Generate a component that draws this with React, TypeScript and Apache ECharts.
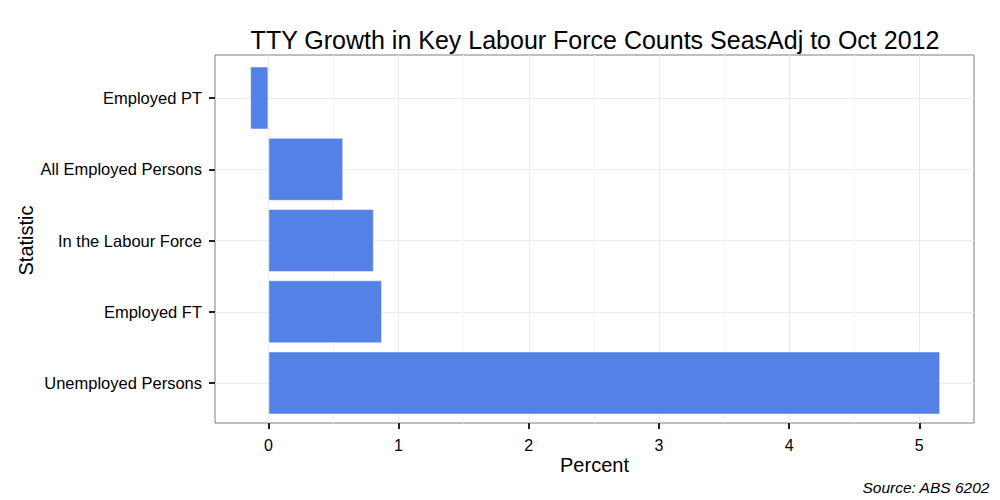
import React, { useEffect, useRef } from "react";
import * as echarts from "echarts";

const categories = [
  "Unemployed Persons",
  "Employed FT",
  "In the Labour Force",
  "All Employed Persons",
  "Employed PT",
];
const growth = [5.16, 0.873, 0.81, 0.575, -0.14];
const xMajorTicks = [0, 1, 2, 3, 4, 5];
const xMinorTicks = [0.5, 1.5, 2.5, 3.5, 4.5];
const xMin = -0.41;
const xMax = 5.42;

const FONT = "'Liberation Sans', Arial, Helvetica, sans-serif";

export default function App() {
  const ref = useRef<HTMLDivElement>(null);
  useEffect(() => {
    if (!ref.current) return;
    const chart = echarts.init(ref.current, undefined, { renderer: "svg" });
    chart.setOption({
      animation: false,
      backgroundColor: "#ffffff",
      textStyle: { fontFamily: FONT },
      title: [
        {
          text: "TTY Growth in Key Labour Force Counts SeasAdj to Oct 2012",
          left: 590,
          top: 22,
          textAlign: "center",
          textStyle: { fontFamily: FONT, fontSize: 25, fontWeight: "normal", color: "#000" },
        },
        {
          text: "Source: ABS 6202",
          right: 5,
          bottom: 0,
          textStyle: { fontFamily: FONT, fontSize: 15.5, fontStyle: "italic", fontWeight: "normal", color: "#000" },
        },
      ],
      grid: [
        { left: 215, right: 26, top: 55, bottom: 77, show: true, borderColor: "#7f7f7f", borderWidth: 1, backgroundColor: "#fff" },
        { left: 215, right: 26, top: 98, bottom: 117 },
      ],
      xAxis: [
        {
          type: "value",
          gridIndex: 0,
          min: xMin,
          max: xMax,
          position: "bottom",
          name: "Percent",
          nameLocation: "middle",
          nameGap: 32,
          nameMoveOverlap: false,
          nameTextStyle: { fontFamily: FONT, fontSize: 20, color: "#000" },
          axisLine: { show: false, onZero: false },
          axisTick: { show: true, length: 6, customValues: xMajorTicks, lineStyle: { color: "#222", width: 2 } },
          axisLabel: { customValues: xMajorTicks, margin: 14, fontSize: 16, color: "#000", fontFamily: FONT },
          splitLine: { show: true, lineStyle: { color: "#ebebeb", width: 1 } },
        },
        {
          type: "value",
          gridIndex: 0,
          min: xMin,
          max: xMax,
          position: "top",
          axisLine: { show: false, onZero: false },
          axisTick: { show: true, length: 0, customValues: xMinorTicks, lineStyle: { opacity: 0 } },
          axisLabel: { show: false },
          splitLine: { show: true, lineStyle: { color: "#f5f5f5", width: 1 } },
        },
        {
          type: "value",
          gridIndex: 1,
          min: xMin,
          max: xMax,
          show: false,
        },
      ],
      yAxis: [
        { type: "value", gridIndex: 0, show: false },
        {
          type: "category",
          gridIndex: 1,
          data: categories,
          boundaryGap: false,
          position: "left",
          name: "Statistic",
          nameLocation: "middle",
          nameRotate: 90,
          nameGap: 179,
          nameMoveOverlap: false,
          nameTextStyle: { fontFamily: FONT, fontSize: 20, color: "#000" },
          axisLine: { show: false, onZero: false },
          axisTick: { show: true, length: 6, lineStyle: { color: "#222", width: 2 } },
          axisLabel: { margin: 13, fontSize: 16.5, color: "#000", fontFamily: FONT },
          splitLine: { show: true, lineStyle: { color: "#ebebeb", width: 1 } },
        },
      ],
      series: [
        {
          type: "bar",
          xAxisIndex: 2,
          yAxisIndex: 1,
          data: growth,
          barWidth: 63,
          clip: false,
          itemStyle: { color: "#5481E6", borderColor: "rgba(255,255,255,0.5)", borderWidth: 1 },
        },
      ],
    });
    return () => chart.dispose();
  }, []);
  return (
    <div
      ref={ref}
      style={{ position: "fixed", left: 0, top: 0, width: 1000, height: 500 }}
    />
  );
}
